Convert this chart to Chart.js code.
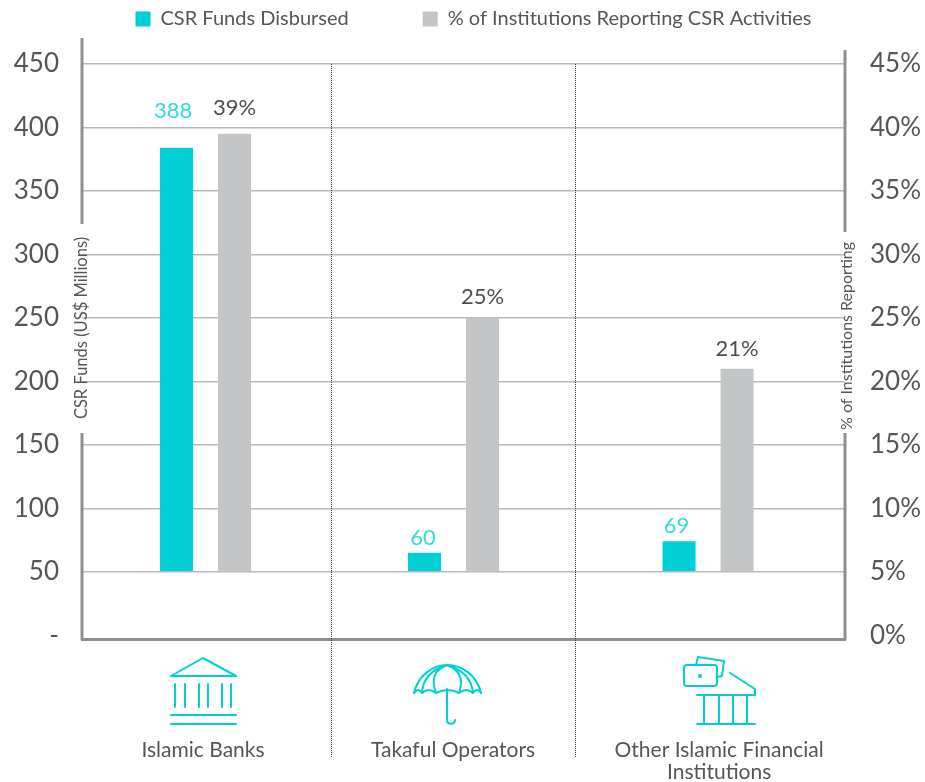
<!DOCTYPE html>
<html>
<head>
<meta charset="utf-8">
<style>
  html, body { margin: 0; padding: 0; background: #fff; }
  #wrap { width: 925px; height: 782px; }
</style>
</head>
<body>
<div id="wrap"><canvas id="chart" width="925" height="782"></canvas></div>
<script src="https://cdn.jsdelivr.net/npm/chart.js@4"></script>
<script>
const categories = ['Islamic Banks', 'Takaful Operators', ['Other Islamic Financial', 'Institutions']];
const fundsBars = [384, 65, 74];
const fundsLabels = ['388', '60', '69'];
const shareBars = [39.5, 25, 21];
const shareLabels = ['39%', '25%', '21%'];
const leftTicks = [0, 50, 100, 150, 200, 250, 300, 350, 400, 450];
const rightTicks = [0, 5, 10, 15, 20, 25, 30, 35, 40, 45];

const CYAN = '#00d0d6';
const GREY = '#c4c5c7';
const TEXT = '#555657';
const AXIS = '#8f8f8f';
const FONT = 'Lato, "Open Sans", sans-serif';

// groups aren't evenly spaced in the picture, the middle one sits a bit left
const groupCentres = [0, 0.987, 2];
const labelCentres = [-0.01, 0.985, 2.044];

// the bars in the picture sit on the 50 line, and the printed numbers don't quite match the heights
const fundsLabelGap = [37, 15, 15];
const shareLabelGap = [26, 21, 20];
const fundsLabelShift = [-3.5, -1.5, -2.5];

const overlay = {
  id: 'overlay',
  beforeLayout(chart) {
    // legend takes no room in the layout, its wide item gap would push the plot down
    const lg = chart.legend;
    if (!lg._noHeight) {
      const fit = lg.fit;
      lg.fit = function () {
        fit.call(this);
        this.height = 0;
      };
      lg._noHeight = true;
    }
  },
  afterLayout(chart) {
    // sits slightly right of centre in the picture
    const lg = chart.legend;
    lg.left += 11;
    lg.right += 11;
    lg.top = -65;
    lg.bottom = 60;
  },
  beforeDatasetsDraw(chart) {
    const { ctx, chartArea: a, scales: { x } } = chart;
    // dotted dividers between the groups
    ctx.save();
    ctx.strokeStyle = '#333';
    ctx.lineWidth = 1;
    ctx.setLineDash([1, 1]);
    [0.5, 1.47].forEach(v => {
      const px = Math.round(x.getPixelForValue(v)) + 0.5;
      ctx.beginPath();
      ctx.moveTo(px, a.top);
      ctx.lineTo(px, 757);
      ctx.stroke();
    });
    ctx.restore();
  },
  afterDatasetsDraw(chart) {
    const { ctx, chartArea: a } = chart;
    ctx.save();

    // side axes are broken where the titles sit
    ctx.strokeStyle = AXIS;
    ctx.lineWidth = 3;
    const segs = [[a.left, 38, 224], [a.left, 433, a.bottom + 1], [a.right, 50, 232], [a.right, 433, a.bottom + 1]];
    segs.forEach(([px, y1, y2]) => {
      ctx.beginPath();
      ctx.moveTo(px, y1);
      ctx.lineTo(px, y2);
      ctx.stroke();
    });

    // value labels
    ctx.textAlign = 'center';
    ctx.textBaseline = 'middle';
    ctx.font = '22px ' + FONT;
    chart.getDatasetMeta(0).data.forEach((bar, i) => {
      ctx.fillStyle = '#35d9de';
      ctx.fillText(fundsLabels[i], bar.x + fundsLabelShift[i], bar.y - fundsLabelGap[i]);
    });
    chart.getDatasetMeta(1).data.forEach((bar, i) => {
      ctx.fillStyle = '#4d4e4f';
      ctx.fillText(shareLabels[i], bar.x, bar.y - shareLabelGap[i]);
    });

    // axis titles
    ctx.fillStyle = TEXT;
    [['CSR Funds (US$ Millions)', 82, 328, 16.5], ['% of Institutions Reporting', 847, 336, 16]].forEach(([t, px, py, size]) => {
      ctx.save();
      ctx.font = size + 'px ' + FONT;
      ctx.translate(px, py);
      ctx.rotate(-Math.PI / 2);
      ctx.fillText(t, 0, 0);
      ctx.restore();
    });

    drawIcons(ctx);
    ctx.restore();
  }
};

function poly(ctx, pts) {
  ctx.beginPath();
  pts.forEach((p, i) => (i ? ctx.lineTo(p[0], p[1]) : ctx.moveTo(p[0], p[1])));
  ctx.stroke();
}

function drawIcons(ctx) {
  ctx.strokeStyle = CYAN;
  ctx.fillStyle = CYAN;
  ctx.lineWidth = 2;
  ctx.lineCap = 'round';
  ctx.lineJoin = 'round';

  // bank
  poly(ctx, [[171, 676], [203, 658], [236, 676], [171, 676]]);
  [175, 185, 199, 208, 222, 231].forEach(px => poly(ctx, [[px, 684], [px, 707]]));
  poly(ctx, [[171, 715], [236, 715]]);
  poly(ctx, [[171, 724], [236, 724]]);

  // umbrella
  const tips = [414, 422, 436, 459, 473, 481];
  ctx.beginPath();
  ctx.moveTo(414, 693);
  ctx.bezierCurveTo(418, 676, 432, 665, 447, 665);
  ctx.bezierCurveTo(463, 665, 477, 676, 481, 693);
  ctx.stroke();
  tips.slice(1, 5).forEach(px => {
    ctx.beginPath();
    ctx.moveTo(447, 665);
    ctx.quadraticCurveTo((px < 447 ? 432 : 462) + (px - 447) * 0.35, 672, px, 693);
    ctx.stroke();
  });
  ctx.beginPath();
  ctx.moveTo(414, 693);
  tips.slice(1).forEach((px, i) => ctx.quadraticCurveTo((px + tips[i]) / 2, 687, px, 693));
  ctx.stroke();
  ctx.beginPath();
  ctx.moveTo(447, 689);
  ctx.lineTo(447, 720);
  ctx.bezierCurveTo(447, 725, 455, 725, 455, 720);
  ctx.stroke();

  // cards and small bank
  ctx.beginPath();
  ctx.roundRect(684, 665, 33, 21, 3);
  ctx.stroke();
  ctx.beginPath();
  ctx.arc(700, 676, 2, 0, Math.PI * 2);
  ctx.fill();
  poly(ctx, [[696, 665], [698, 657], [724, 661], [722, 676], [717, 677]]);
  poly(ctx, [[730, 673], [755, 689], [755, 695]]);
  poly(ctx, [[697, 695], [755, 695]]);
  poly(ctx, [[697, 724], [755, 724]]);
  [704, 719, 733, 747].forEach(px => poly(ctx, [[px, 695], [px, 724]]));
}

new Chart(document.getElementById('chart'), {
  type: 'bar',
  data: {
    datasets: [
      {
        label: 'CSR Funds Disbursed',
        data: fundsBars.map((v, i) => ({ x: groupCentres[i], y: v })),
        backgroundColor: CYAN,
        base: 50,
        yAxisID: 'y'
      },
      {
        label: '% of Institutions Reporting CSR Activities',
        data: shareBars.map((v, i) => ({ x: groupCentres[i], y: v })),
        backgroundColor: GREY,
        base: 5,
        yAxisID: 'y1'
      }
    ]
  },
  options: {
    responsive: false,
    animation: false,
    categoryPercentage: 0.4677,
    barPercentage: 0.569,
    layout: { padding: { top: 64, left: 0, right: 0, bottom: 0 } },
    plugins: {
      tooltip: { enabled: false },
      legend: {
        position: 'top',
        onClick: null,
        labels: {
          boxWidth: 15,
          boxHeight: 15,
          padding: 74,
          color: TEXT,
          font: { family: FONT, size: 20 }
        }
      }
    },
    scales: {
      x: {
        type: 'linear',
        offset: false,
        min: -0.4916,
        max: 2.545,
        afterBuildTicks: s => { s.ticks = labelCentres.map(v => ({ value: v })); },
        afterFit: s => { s.height = 143; s.paddingLeft = 0; s.paddingRight = 0; },
        grid: { display: false, offset: false },
        border: { display: true, color: AXIS, width: 3 },
        ticks: {
          autoSkip: false,
          maxRotation: 0,
          padding: 93,
          color: TEXT,
          font: { family: FONT, size: 21, lineHeight: 1.02 },
          callback: (v, i) => categories[i]
        }
      },
      y: {
        position: 'left',
        min: -3,
        max: 450,
        afterBuildTicks: s => { s.ticks = leftTicks.map(v => ({ value: v })); },
        afterFit: s => { s.width = 82; },
        border: { display: false },
        grid: {
          drawTicks: false,
          lineWidth: 1.5,
          color: c => (c.tick && c.tick.value === 0 ? 'transparent' : '#b9b9b9')
        },
        ticks: {
          padding: 23,
          color: TEXT,
          font: { family: FONT, size: 26 },
          callback: v => (v === 0 ? '-' : String(v))
        }
      },
      y1: {
        position: 'right',
        min: -0.3,
        max: 45,
        afterBuildTicks: s => { s.ticks = rightTicks.map(v => ({ value: v })); },
        afterFit: s => { s.width = 80; },
        border: { display: false },
        grid: { display: false, drawTicks: false },
        ticks: {
          padding: 25,
          color: TEXT,
          font: { family: FONT, size: 26 },
          callback: v => v + '%'
        }
      }
    }
  },
  plugins: [overlay]
});
</script>
</body>
</html>
